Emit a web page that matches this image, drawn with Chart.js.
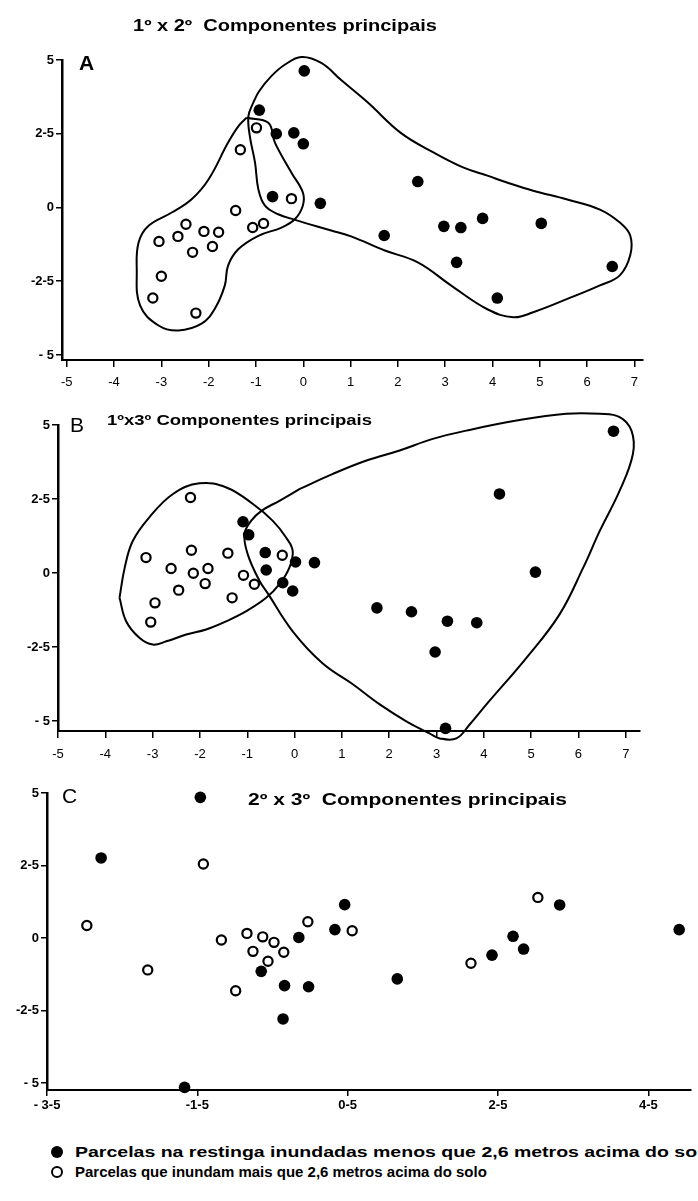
<!DOCTYPE html>
<html>
<head>
<meta charset="utf-8">
<script src="https://cdn.jsdelivr.net/npm/chart.js@4.4.0/dist/chart.umd.min.js"></script>
<style>
  body { margin: 0; width: 698px; height: 1201px; overflow: hidden; background: #fff; position: relative; font-family: "Liberation Sans", Arial, sans-serif; }
  canvas { position: absolute; left: 0; }
  #cA { top: 0; }
  #cB { top: 395px; }
  #cC { top: 770px; }
  #legend { position: absolute; left: 0; top: 1142px; width: 698px; font-weight: bold; font-size: 15px; white-space: nowrap; overflow: hidden; }
  .row { position: relative; height: 20px; line-height: 20px; padding-left: 75px; }
  .row.wide span.txt { display: inline-block; transform: scaleX(1.3); transform-origin: left center; }
  .dot { position: absolute; left: 51px; top: 4px; width: 12px; height: 12px; border-radius: 50%; box-sizing: border-box; }
  .filled { background: #000; }
  .open { border: 2px solid #000; background: #fff; }
</style>
</head>
<body>
<canvas id="cA" width="698" height="395"></canvas>
<canvas id="cB" width="698" height="375"></canvas>
<canvas id="cC" width="698" height="345"></canvas>
<div id="legend">
  <div class="row wide"><span class="dot filled"></span><span class="txt">Parcelas na restinga inundadas menos que 2,6 metros acima do solo</span></div>
  <div class="row"><span class="dot open"></span>Parcelas que inundam mais que 2,6 metros acima do solo</div>
</div>
<script>
// A: 1º x 2º componentes principais
let aFilledX = [0.02, -0.93, -0.57, -0.2, 0, -0.65, 0.36, 2.42, 1.71, 2.97, 3.33, 3.79, 5.03, 3.24, 6.53, 4.1];
let aFilledY = [4.63, 3.3, 2.5, 2.53, 2.16, 0.37, 0.14, 0.88, -0.95, -0.64, -0.68, -0.37, -0.54, -1.86, -2.0, -3.07];
let aOpenX = [-0.99, -1.33, -0.25, -1.43, -1.07, -0.84, -2.48, -2.65, -2.1, -1.79, -1.92, -2.34, -3.05, -3.0, -3.18, -2.27];
let aOpenY = [2.7, 1.96, 0.3, -0.1, -0.68, -0.54, -0.57, -0.98, -0.81, -0.84, -1.32, -1.52, -1.15, -2.33, -3.07, -3.58];
let aHullOpen = [[-1.2,3.04],[-0.74,2.87],[-0.6,2.2],[-0.25,1.18],[-0.01,0.51],[-0.01,0.06],[-0.18,-0.4],[-0.46,-0.68],[-0.95,-0.96],[-1.37,-1.41],[-1.59,-1.97],[-1.66,-2.65],[-1.87,-3.43],[-2.15,-3.94],[-2.64,-4.17],[-3.06,-4.0],[-3.45,-3.32],[-3.52,-2.08],[-3.48,-1.18],[-3.27,-0.62],[-2.78,-0.17],[-2.36,0.28],[-2.0,0.96],[-1.59,2.2],[-1.37,2.76]];
let aHullFilled = [[-1.06,3.55],[-1.16,3.1],[-1.13,2.42],[-1.02,1.52],[-0.95,0.62],[-0.81,0.06],[-0.53,-0.23],[-0.19,-0.41],[0.59,-0.78],[1.01,-0.98],[1.71,-1.45],[2.42,-1.86],[3.12,-2.64],[3.89,-3.45],[4.44,-3.72],[4.86,-3.55],[5.58,-3.1],[6.27,-2.64],[6.69,-2.3],[6.91,-1.62],[6.91,-0.95],[6.69,-0.51],[6.27,-0.07],[5.58,0.27],[4.86,0.57],[4.32,0.84],[3.89,1.08],[3.39,1.35],[2.76,1.86],[2.06,2.53],[1.37,3.55],[0.8,4.32],[0.38,4.9],[-0.04,5.1],[-0.4,4.83],[-0.67,4.46],[-0.93,3.95]];

// B: 1º x 3º
let bFilledX = [-1.09, -0.97, -0.62, -0.6, 0.02, 0.42, -0.25, -0.04, 6.74, 4.33, 5.09, 1.74, 2.47, 3.23, 3.85, 2.97, 3.19];
let bFilledY = [1.73, 1.29, 0.69, 0.1, 0.37, 0.35, -0.33, -0.61, 4.79, 2.67, 0.03, -1.18, -1.31, -1.63, -1.68, -2.67, -5.25];
let bOpenX = [-2.2, -3.14, -2.18, -1.41, -0.26, -2.61, -2.14, -1.83, -1.89, -2.45, -1.08, -0.85, -1.32, -2.95, -3.04];
let bOpenY = [2.55, 0.52, 0.77, 0.67, 0.6, 0.15, -0.01, 0.15, -0.36, -0.58, -0.08, -0.38, -0.84, -1.01, -1.66];
let bHullOpen = [[-3.7,-0.84],[-3.59,0.18],[-3.42,1.08],[-3.07,1.88],[-2.57,2.67],[-2.01,3.03],[-1.44,2.89],[-0.88,2.33],[-0.46,1.76],[-0.18,1.2],[-0.04,0.75],[-0.11,0.18],[-0.32,-0.38],[-0.6,-0.84],[-1.02,-1.29],[-1.44,-1.63],[-1.87,-1.91],[-2.29,-2.08],[-2.71,-2.31],[-3.0,-2.42],[-3.28,-2.19],[-3.56,-1.63]];
let bHullFilled = [[0.11,2.84],[-0.32,2.44],[-0.7,2.1],[-0.92,1.76],[-1.06,1.31],[-0.99,0.63],[-0.74,-0.27],[-0.57,-0.68],[-0.04,-1.97],[0.59,-3.05],[1.23,-3.76],[1.8,-4.44],[2.37,-5.02],[2.85,-5.42],[3.07,-5.59],[3.42,-5.59],[3.7,-5.12],[4.05,-4.45],[4.9,-2.87],[5.6,-1.4],[6.1,0.18],[6.45,1.42],[6.87,2.78],[7.15,4.02],[7.12,4.81],[6.87,5.27],[6.45,5.38],[5.74,5.38],[4.69,5.15],[3.63,4.81],[2.92,4.53],[2.22,4.14],[1.52,3.8],[0.81,3.35]];

// C: 2º x 3º
let cFilledX = [-1.46, -2.78, -0.15, 0.33, 0.46, -0.65, -0.34, -0.02, -0.36, -1.67, 1.16, 2.42, 2.7, 2.84, 3.32, 4.91];
let cFilledY = [4.85, 2.76, 0.02, 0.29, 1.15, -1.15, -1.64, -1.68, -2.79, -5.15, -1.41, -0.59, 0.06, -0.38, 1.14, 0.29];
let cOpenX = [-1.42, -2.97, -2.16, -1.18, -0.84, -0.63, -0.48, -0.76, -0.56, -0.35, -0.99, -0.03, 0.56, 2.14, 3.03];
let cOpenY = [2.55, 0.43, -1.1, -0.07, 0.16, 0.04, -0.15, -0.46, -0.8, -0.49, -1.82, 0.56, 0.25, -0.87, 1.4];

let abXTicks = [-5, -4, -3, -2, -1, 0, 1, 2, 3, 4, 5, 6, 7];
let abXLabels = ["-5", "-4", "-3", "-2", "-1", "0", "1", "2", "3", "4", "5", "6", "7"];
let cXTicks = [-3.5, -1.5, 0.5, 2.5, 4.5];
let cXLabels = ["- 3-5", "-1-5", "0-5", "2-5", "4-5"];
let yTicks = [-5, -2.5, 0, 2.5, 5];
let yLabels = ["- 5", "-2-5", "0", "2-5", "5"];

function pts(xs, ys) {
  return xs.map((x, i) => ({ x: x, y: ys[i] }));
}
function loop(arr) {
  return arr.concat([arr[0]]).map(p => ({ x: p[0], y: p[1] }));
}

// draws the panel letter + heading, stretched to the width in the scan
const panelText = {
  id: 'panelText',
  afterDraw(chart, args, opts) {
    const ctx = chart.ctx;
    ctx.save();
    ctx.fillStyle = '#000';
    ctx.textBaseline = 'middle';
    ctx.textAlign = 'left';
    (opts.items || []).forEach(t => {
      ctx.font = t.font;
      let w = ctx.measureText(t.text).width;
      ctx.save();
      ctx.translate(t.x, t.y);
      if (t.w) ctx.scale(t.w / w, 1);
      ctx.fillText(t.text, 0, 0);
      ctx.restore();
    });
    ctx.restore();
  }
};

function hullSet(arr) {
  return { type: 'scatter', data: loop(arr), showLine: true, tension: 0.4, pointRadius: 0, borderColor: '#000', borderWidth: 2, fill: false, clip: false };
}

function panel(id, o) {
  new Chart(document.getElementById(id), {
    type: 'scatter',
    data: {
      datasets: [
        { data: o.filled, pointRadius: 5.8, pointBackgroundColor: '#000', pointBorderWidth: 0, clip: false },
        { data: o.open, pointRadius: 4.6, pointBackgroundColor: '#fff', pointBorderColor: '#000', pointBorderWidth: 2.2, clip: false }
      ].concat(o.hulls.map(hullSet))
    },
    options: {
      responsive: false,
      animation: false,
      layout: { padding: { left: 0, top: o.top, right: o.right, bottom: 0 } },
      scales: {
        x: {
          type: 'linear', min: o.xMin, max: o.xMax,
          afterBuildTicks: s => { s.ticks = o.xTicks.map(v => ({ value: v })); },
          afterFit: s => { s.height = o.xH; },
          ticks: { autoSkip: false, maxRotation: 0, padding: o.xPad, color: '#000', font: o.xFont,
                   callback: (v, i) => o.xLabels[i] },
          grid: { display: true, drawOnChartArea: false, drawTicks: true, tickLength: o.xTick, color: '#000', lineWidth: 1.5 },
          border: { display: true, color: '#000', width: 2 }
        },
        y: {
          type: 'linear', min: o.yMin, max: o.yMax,
          afterBuildTicks: s => { s.ticks = yTicks.map(v => ({ value: v })); },
          afterFit: s => { s.width = o.yW; },
          ticks: { autoSkip: false, padding: 2, color: '#000', font: { family: 'Liberation Sans', size: 13, weight: 'bold' },
                   callback: (v, i) => yLabels[i] },
          grid: { display: true, drawOnChartArea: false, drawTicks: true, tickLength: 6, color: '#000', lineWidth: 1.5 },
          border: { display: true, color: '#000', width: 2.5 }
        }
      },
      plugins: {
        legend: { display: false },
        tooltip: { enabled: false },
        panelText: { items: o.texts }
      }
    },
    plugins: [panelText]
  });
}

panel('cA', {
  filled: pts(aFilledX, aFilledY), open: pts(aOpenX, aOpenY), hulls: [aHullOpen, aHullFilled],
  xMin: -5.1, xMax: 7.18, yMin: -5.17, yMax: 5,
  top: 60, right: 55, xH: 35, yW: 62,
  xTicks: abXTicks, xLabels: abXLabels, xTick: 7, xPad: 8,
  xFont: { family: 'Liberation Sans', size: 13 },
  texts: [
    { text: 'A', x: 79, y: 64, font: 'bold 21px "Liberation Sans"' },
    { text: '1º x 2º  Componentes principais', x: 133, y: 27, w: 304, font: 'bold 16px "Liberation Sans"' }
  ]
});

panel('cB', {
  filled: pts(bFilledX, bFilledY), open: pts(bOpenX, bOpenY), hulls: [bHullOpen, bHullFilled],
  xMin: -5, xMax: 7.3, yMin: -5.34, yMax: 5,
  top: 30, right: 58, xH: 39, yW: 58,
  xTicks: abXTicks, xLabels: abXLabels, xTick: 7, xPad: 9,
  xFont: { family: 'Liberation Sans', size: 13 },
  texts: [
    { text: 'B', x: 70, y: 31, font: '21px "Liberation Sans"' },
    { text: '1ºx3º Componentes principais', x: 107, y: 26, w: 265, font: 'bold 15px "Liberation Sans"' }
  ]
});

panel('cC', {
  filled: pts(cFilledX, cFilledY), open: pts(cOpenX, cOpenY), hulls: [],
  xMin: -3.5, xMax: 5.07, yMin: -5.24, yMax: 5,
  top: 23, right: 0, xH: 25, yW: 47,
  xTicks: cXTicks, xLabels: cXLabels, xTick: 6, xPad: 2,
  xFont: { family: 'Liberation Sans', size: 13, weight: 'bold' },
  texts: [
    { text: 'C', x: 62, y: 27, font: '21px "Liberation Sans"' },
    { text: '2º x 3º  Componentes principais', x: 248, y: 31, w: 319, font: 'bold 16px "Liberation Sans"' }
  ]
});
</script>
</body>
</html>
